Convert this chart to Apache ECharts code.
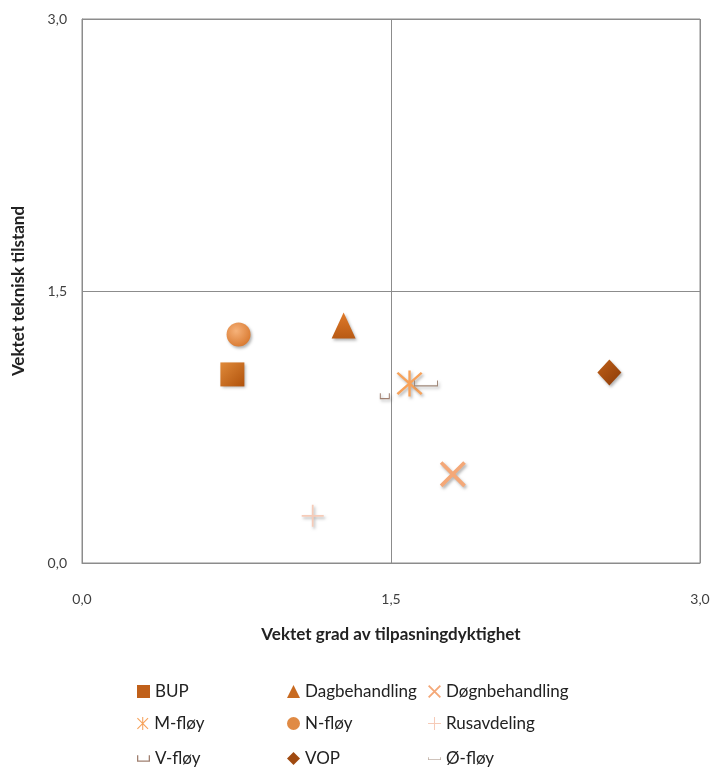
<!DOCTYPE html>
<html><head><meta charset="utf-8">
<script src="https://cdn.jsdelivr.net/npm/echarts@6/dist/echarts.min.js"></script>
<style>html,body{margin:0;padding:0;background:#fff}#c{width:714px;height:769px}</style>
</head><body><div id="c"></div>
<script>
// Data (x = Vektet grad av tilpasningdyktighet, y = Vektet teknisk tilstand)
const seriesNames = ['BUP','Dagbehandling','Døgnbehandling','M-fløy','N-fløy','Rusavdeling','V-fløy','VOP','Ø-fløy'];
const xValues = [0.73, 1.27, 1.80, 1.59, 0.76, 1.12, 1.47, 2.56, 1.67];
const yValues = [1.04, 1.31, 0.49, 0.99, 1.26, 0.26, 0.92, 1.05, 0.99];
const axisTicks = [0, 1.5, 3.0];

const PX = 'path://M0,1L1,0L10,9L9,10Z M9,0L10,1L1,10L0,9Z';
const PPLUS = 'path://M4.6,0H5.4V10H4.6Z M0,4.6H10V5.4H0Z';
const PSTAR = 'path://M0.6,1.2L1.2,0.6L9.4,8.8L8.8,9.4Z M8.8,0.6L9.4,1.2L1.2,9.4L0.6,8.8Z M4.6,0H5.4V10H4.6Z';
const styles = [
  {symbol:'rect', size:24, color:{type:'linear',x:0,y:0,x2:1,y2:1,colorStops:[{offset:0,color:'#e08a3a'},{offset:1,color:'#b0520c'}]}, legendColor:'#c0601a'},
  {symbol:'triangle', size:[24,26], color:{type:'linear',x:0,y:0,x2:0,y2:1,colorStops:[{offset:0,color:'#e07a2a'},{offset:1,color:'#b85a14'}]}, legendColor:'#c86a20'},
  {symbol:PX, size:26, color:'#f4a878', legendColor:'#f4a878'},
  {symbol:PSTAR, size:26, color:'#f7a25a', legendColor:'#f7a25a'},
  {symbol:'circle', size:24, color:{type:'radial',x:0.4,y:0.35,r:0.7,colorStops:[{offset:0,color:'#f6b27a'},{offset:1,color:'#d8782e'}]}, legendColor:'#e08a44'},
  {symbol:PPLUS, size:22, color:'#f6cbb8', legendColor:'#f6cbb8'},
  {symbol:'path://M0,0H1V4H9V0H10V5H0Z', size:[10,6], color:'#a08070', legendColor:'#a08070'},
  {symbol:'diamond', size:[24,26], color:{type:'linear',x:0,y:0,x2:1,y2:1,colorStops:[{offset:0,color:'#c06018'},{offset:1,color:'#8a3a08'}]}, legendColor:'#a04a10'},
  {symbol:'path://M0,0H1V4H23V0H24V5H0Z', size:[24,6], color:'#a08878', legendColor:'#a08878'}
];

const series = seriesNames.map((n,i)=>({
  name:n, type:'scatter',
  data:[[xValues[i], yValues[i]]],
  symbol:styles[i].symbol, symbolSize:styles[i].size,
  itemStyle:{color:styles[i].color, shadowBlur:3, shadowColor:'rgba(0,0,0,0.3)', shadowOffsetX:1.5, shadowOffsetY:2, opacity:1},
  emphasis:{disabled:true}
}));

const fmt = v => v.toFixed(1).replace('.', ',');
const FF = 'Lato, "Open Sans", sans-serif';
const legendFont = {fontFamily:FF, fontSize:17, color:'#222'};
const colLeft = [137, 287, 428];
const rowCenter = [692, 724, 759];
const legends = seriesNames.map((n,i)=>({
  orient:'horizontal', left:colLeft[i%3], top:rowCenter[Math.floor(i/3)]-9, itemWidth:13, itemHeight:13, itemGap:4,
  padding:0, textStyle:legendFont, selectedMode:false,
  data:[{name:n, icon:styles[i].symbol, itemStyle:{color:styles[i].legendColor}}]
}));

const chart = echarts.init(document.getElementById('c'), null, {renderer:'canvas'});
const axisCommon = {
  type:'value', min:axisTicks[0], max:axisTicks[2], interval:1.5,
  axisLine:{show:true, lineStyle:{color:'#8c8c8c', width:1}},
  axisTick:{show:false},
  splitLine:{show:true, lineStyle:{color:'#8c8c8c', width:1}},
  axisLabel:{formatter:fmt, color:'#404040', fontFamily:FF, fontSize:14},
  nameLocation:'middle',
  nameTextStyle:{fontFamily:FF, fontSize:17, fontWeight:'bold', color:'#222'}
};
chart.setOption({
  animation:false,
  backgroundColor:'#fff',
  grid:{left:82, right:14, top:19, bottom:206, show:true, borderColor:'#8c8c8c', borderWidth:1},
  xAxis:Object.assign({}, axisCommon, {name:'Vektet grad av tilpasningdyktighet', nameGap:63, axisLabel:Object.assign({}, axisCommon.axisLabel, {margin:29})}),
  yAxis:Object.assign({}, axisCommon, {name:'Vektet teknisk tilstand', nameGap:55, axisLabel:Object.assign({}, axisCommon.axisLabel, {margin:15})}),
  legend:legends,
  series:series
});
</script></body></html>
